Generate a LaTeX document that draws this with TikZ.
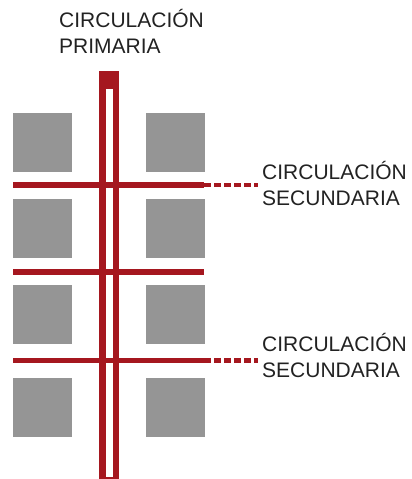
\documentclass[tikz,border=0pt]{standalone}
\usepackage{fontspec}
\setmainfont{Liberation Sans}
\definecolor{rojo}{HTML}{A5171F}
\definecolor{gris}{HTML}{959595}
\definecolor{texto}{HTML}{222222}
\begin{document}
\begin{tikzpicture}[x=1pt,y=-1pt,
  bloque/.style={fill=gris,minimum width=59pt,minimum height=59pt,inner sep=0pt},
  sec/.style={draw=rojo,line width=5.5pt},
  guia/.style={draw=rojo,line width=4.5pt,dash pattern=on 6.5pt off 3.5pt},
  rotulo/.style={text=texto,align=left,inner sep=0pt,anchor=base west,
    font=\fontsize{21}{25.5}\selectfont}]
  \useasboundingbox (0,0) rectangle (412,479);
  % manzanas
  \foreach \y [count=\i] in {142.5,228,314.5,407}{
    \node[bloque] (bi\i) at (42.5,\y) {};
    \node[bloque] (bd\i) at (175.5,\y) {};
  }
  % circulacion primaria
  \fill[rojo] (98.5,71) rectangle (119,479);
  \fill[white] (106,89) rectangle (112.5,477);
  % circulaciones secundarias
  \coordinate (s1a) at (13,185);   \coordinate (s1b) at (204,185);
  \coordinate (s2a) at (13,272);   \coordinate (s2b) at (204,272);
  \coordinate (s3a) at (13,360.5); \coordinate (s3b) at (204,360.5);
  \draw[sec] (s1a) -- (s1b);
  \draw[sec] (s2a) -- (s2b);
  \draw[sec] (s3a) -- (s3b);
  % rotulos (base = ultima linea)
  \node[rotulo] (prim) at (59,53) {CIRCULACIÓN\\PRIMARIA};
  \node[rotulo] (sec1) at (262,205) {CIRCULACIÓN\\SECUNDARIA};
  \node[rotulo] (sec2) at (262,377) {CIRCULACIÓN\\SECUNDARIA};
  \coordinate (g1) at (258,185);
  \coordinate (g3) at (258,360.5);
  \draw[guia] (s1b) -- (g1);
  \draw[guia] (s3b) -- (g3);
\end{tikzpicture}
\end{document}
